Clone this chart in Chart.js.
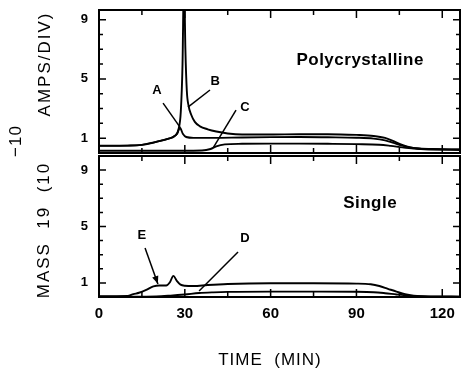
<!DOCTYPE html>
<html><head><meta charset="utf-8">
<script src="https://cdn.jsdelivr.net/npm/chart.js@4/dist/chart.umd.min.js"></script>
<style>
html,body{margin:0;padding:0;background:#fff;}
#wrap{position:relative;width:461px;height:372px;overflow:hidden;background:#fff;}
canvas{position:absolute;left:0;}
#c1{top:0}
#c2{top:150px}
</style></head><body>
<div id="wrap"><canvas id="c1" width="461" height="165"></canvas><canvas id="c2" width="461" height="222"></canvas></div>
<script>
// ---------- data (time in minutes, signal in 10^-10 A) ----------
const xTickLabels = [0, 30, 60, 90, 120];
const xMinorTicks = [15, 30, 45, 60, 75, 90, 105, 120];
const yTickLabels = [1, 5, 9];
const yMinorTicks = [1, 2, 3, 4, 5, 6, 7, 8, 9];

// Polycrystalline panel
const timeA = [0, 10, 15, 18, 21, 24, 26, 27.3, 28.3, 29.3, 30.5, 33, 40, 50, 60, 70, 80, 90, 96, 100, 103, 106, 109, 112, 118, 126];
const ampsA = [0.5, 0.5, 0.55, 0.65, 0.8, 0.95, 1.1, 1.3, 1.7, 1.3, 1.08, 1.02, 1.02, 1.05, 1.07, 1.08, 1.06, 1.03, 0.97, 0.85, 0.68, 0.5, 0.36, 0.29, 0.25, 0.22];
const timeB = [0, 10, 15, 20, 24, 26.5, 27.8, 28.6, 29.2, 29.7, 30.2, 30.7, 31.3, 32.2, 33.5, 35.3, 38, 41, 45, 50, 60, 70, 80, 90, 96, 100, 103, 106, 109, 112, 118, 126];
const ampsB = [0.48, 0.5, 0.55, 0.75, 0.95, 1.15, 1.6, 2.8, 6, 12, 7, 4.2, 3.2, 2.6, 2.1, 1.8, 1.6, 1.45, 1.32, 1.25, 1.25, 1.27, 1.27, 1.22, 1.15, 1.02, 0.8, 0.55, 0.38, 0.3, 0.26, 0.24];
const timeC = [0, 20, 36, 39, 41, 44, 50, 60, 70, 80, 90, 98, 102, 106, 110, 115, 126];
const ampsC = [0.15, 0.15, 0.17, 0.27, 0.45, 0.58, 0.62, 0.63, 0.63, 0.62, 0.6, 0.56, 0.48, 0.38, 0.3, 0.25, 0.22];

// Single crystal panel
const timeE = [0, 10, 12, 14, 16.5, 19, 21, 23.5, 24.8, 26, 27.2, 28.5, 30, 33, 38, 45, 60, 75, 90, 95, 98, 101, 104, 107, 110, 115, 126];
const massE = [0.05, 0.07, 0.2, 0.3, 0.5, 0.75, 0.82, 0.82, 1.05, 1.5, 1.15, 0.88, 0.8, 0.78, 0.85, 0.92, 0.97, 0.97, 0.95, 0.9, 0.78, 0.58, 0.38, 0.2, 0.1, 0.04, 0.03];
const timeD = [0, 15, 20, 25, 30, 35, 40, 45, 60, 75, 90, 96, 100, 104, 108, 112, 116, 126];
const massD = [0.03, 0.03, 0.04, 0.1, 0.18, 0.28, 0.33, 0.36, 0.38, 0.38, 0.37, 0.34, 0.27, 0.18, 0.1, 0.05, 0.03, 0.03];

// annotation letters (data coordinates)
const topNotes = ['A', 'B', 'C'];
const topNoteT = [20.3, 40.6, 51.0];
const topNoteV = [4.25, 4.8, 3.1];
const topLeadT0 = [22.4, 38.8, 47.9];
const topLeadV0 = [3.37, 4.25, 2.9];
const topLeadT1 = [28.3, 31.1, 39.9];
const topLeadV1 = [1.75, 3.1, 0.34];
const topArrow = [false, false, false];

const botNotes = ['E', 'D'];
const botNoteT = [15.0, 51.0];
const botNoteV = [4.4, 4.18];
const botLeadT0 = [16.1, 48.6];
const botLeadV0 = [3.47, 3.19];
const botLeadT1 = [20.6, 35.0];
const botLeadV1 = [0.92, 0.43];
const botArrow = [true, false];

const panelTitles = ['Polycrystalline', 'Single'];
const panelTitleT = [91.3, 94.8];
const panelTitleV = [6.28, 6.67];

// ---------- helpers ----------
const FONT = '"Liberation Sans", Arial, Helvetica, sans-serif';
function pts(t, v) { return t.map((x, i) => ({x: x, y: v[i]})); }
function lineDs(t, v) {
  return {data: pts(t, v), borderColor: '#000', borderWidth: 1.9, pointRadius: 0, fill: false,
          cubicInterpolationMode: 'monotone', clip: 0};
}
function drawFrame(chart) {
  const ctx = chart.ctx, a = chart.chartArea, x = chart.scales.x, y = chart.scales.y;
  ctx.save();
  ctx.strokeStyle = '#000';
  ctx.lineWidth = 2;
  ctx.strokeRect(a.left, a.top, a.right - a.left, a.bottom - a.top);
  ctx.lineWidth = 1.5;
  ctx.beginPath();
  xMinorTicks.forEach(v => {
    const px = x.getPixelForValue(v);
    const L = xTickLabels.includes(v) ? 8 : 5;
    ctx.moveTo(px, a.top); ctx.lineTo(px, a.top + L);
    ctx.moveTo(px, a.bottom); ctx.lineTo(px, a.bottom - L);
  });
  yMinorTicks.forEach(v => {
    const py = y.getPixelForValue(v);
    const L = yTickLabels.includes(v) ? 7 : 4;
    ctx.moveTo(a.left, py); ctx.lineTo(a.left + L, py);
    ctx.moveTo(a.right, py); ctx.lineTo(a.right - L, py);
  });
  ctx.stroke();
  ctx.restore();
}
function drawNotes(chart, names, nt, nv, t0, v0, t1, v1, arrow, title, titleT, titleV) {
  const ctx = chart.ctx, x = chart.scales.x, y = chart.scales.y;
  ctx.save();
  ctx.fillStyle = '#000'; ctx.strokeStyle = '#000'; ctx.lineWidth = 1.5;
  ctx.textAlign = 'center'; ctx.textBaseline = 'middle';
  ctx.font = 'bold 13px ' + FONT;
  names.forEach((n, i) => {
    ctx.fillText(n, x.getPixelForValue(nt[i]), y.getPixelForValue(nv[i]));
    const xa = x.getPixelForValue(t0[i]), ya = y.getPixelForValue(v0[i]);
    const xb = x.getPixelForValue(t1[i]), yb = y.getPixelForValue(v1[i]);
    ctx.beginPath(); ctx.moveTo(xa, ya); ctx.lineTo(xb, yb); ctx.stroke();
    if (arrow[i]) {
      const ang = Math.atan2(yb - ya, xb - xa), L = 8, W = 3.2;
      ctx.beginPath();
      ctx.moveTo(xb, yb);
      ctx.lineTo(xb - L * Math.cos(ang) + W * Math.sin(ang), yb - L * Math.sin(ang) - W * Math.cos(ang));
      ctx.lineTo(xb - L * Math.cos(ang) - W * Math.sin(ang), yb - L * Math.sin(ang) + W * Math.cos(ang));
      ctx.closePath(); ctx.fill();
    }
  });
  ctx.font = 'bold 17px ' + FONT;
  ctx.letterSpacing = '0.5px';
  ctx.fillText(title, x.getPixelForValue(titleT), y.getPixelForValue(titleV));
  ctx.restore();
}
function rotText(ctx, s, cx, cy, size, spacing) {
  ctx.save();
  ctx.translate(cx, cy); ctx.rotate(-Math.PI / 2);
  ctx.font = size + 'px ' + FONT;
  ctx.letterSpacing = spacing + 'px';
  ctx.fillStyle = '#000'; ctx.textAlign = 'center'; ctx.textBaseline = 'middle';
  ctx.fillText(s, 0, 0);
  ctx.restore();
}
function yScale(max) {
  return {min: 0, max: max, grid: {display: false, drawTicks: false}, border: {display: false},
    ticks: {padding: 11, color: '#000', font: {family: FONT, size: 13, weight: 'bold'}},
    afterBuildTicks: s => { s.ticks = yTickLabels.map(v => ({value: v})); },
    afterFit: s => { s.width = 99; s.paddingTop = 0; s.paddingBottom = 0; }};
}
const common = {responsive: false, animation: false, devicePixelRatio: 1,
  plugins: {legend: {display: false}, tooltip: {enabled: false}}};

// ---------- top panel ----------
new Chart(document.getElementById('c1'), {
  type: 'line',
  data: {datasets: [lineDs(timeA, ampsA), lineDs(timeB, ampsB), lineDs(timeC, ampsC)]},
  options: Object.assign({}, common, {
    layout: {padding: {top: 10, right: 1, bottom: 12, left: 0}},
    scales: {
      x: {type: 'linear', min: 0, max: 126.2, display: false},
      y: yScale(9.65)
    }
  }),
  plugins: [{id: 'decorTop', afterDatasetsDraw(chart) {
    drawFrame(chart);
    drawNotes(chart, topNotes, topNoteT, topNoteV, topLeadT0, topLeadV0, topLeadT1, topLeadV1, topArrow,
              panelTitles[0], panelTitleT[0], panelTitleV[0]);
    rotText(chart.ctx, 'AMPS/DIV)', 45, 64, 17, 2);
    rotText(chart.ctx, '\u221210', 16, 141, 17, 1);
  }}]
});

// ---------- bottom panel ----------
new Chart(document.getElementById('c2'), {
  type: 'line',
  data: {datasets: [lineDs(timeE, massE), lineDs(timeD, massD)]},
  options: Object.assign({}, common, {
    layout: {padding: {top: 6, right: 1, bottom: 0, left: 0}},
    scales: {
      x: {type: 'linear', min: 0, max: 126.2, grid: {display: false, drawTicks: false}, border: {display: false},
        ticks: {padding: 8, color: '#000', maxRotation: 0, autoSkip: false, font: {family: FONT, size: 15, weight: 'bold'}},
        afterBuildTicks: s => { s.ticks = xTickLabels.map(v => ({value: v})); },
        afterFit: s => { s.height = 75; s.paddingLeft = 0; s.paddingRight = 0; }},
      y: yScale(10)
    }
  }),
  plugins: [{id: 'decorBot', afterDatasetsDraw(chart) {
    drawFrame(chart);
    drawNotes(chart, botNotes, botNoteT, botNoteV, botLeadT0, botLeadV0, botLeadT1, botLeadV1, botArrow,
              panelTitles[1], panelTitleT[1], panelTitleV[1]);
    rotText(chart.ctx, 'MASS  19  (10', 44, 80, 17, 2);
    const ctx = chart.ctx;
    ctx.save();
    ctx.font = '17px ' + FONT; ctx.letterSpacing = '1px';
    ctx.fillStyle = '#000'; ctx.textAlign = 'center'; ctx.textBaseline = 'middle';
    ctx.fillText('TIME  (MIN)', 270, 210);
    ctx.restore();
  }}]
});
</script>
</body></html>
